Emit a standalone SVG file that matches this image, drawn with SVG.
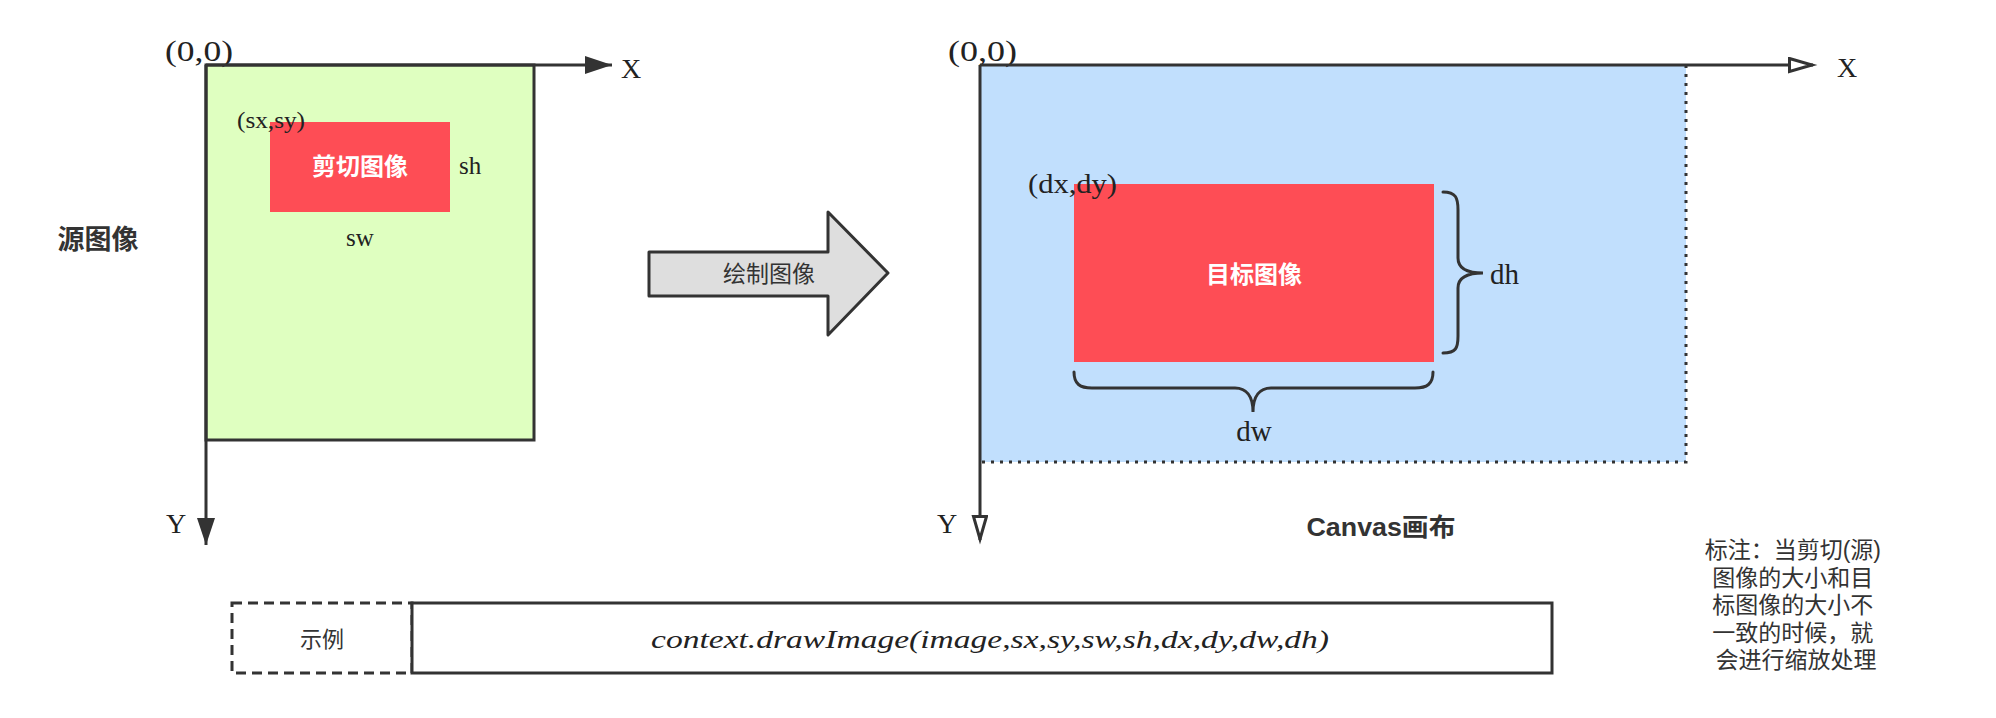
<svg xmlns="http://www.w3.org/2000/svg" width="1996" height="718" viewBox="0 0 1996 718">
<style>
.serif{font-family:"Liberation Serif","Times New Roman",serif;fill:#222;}
.cjk{font-family:"Liberation Sans","Noto Sans CJK SC",sans-serif;fill:#333;}
.bold{font-weight:bold;}
.white{fill:#ffffff;}
.axis{stroke:#333;stroke-width:3;fill:none;}
.brace{stroke:#333;stroke-width:3;fill:none;stroke-linecap:round;}
</style>
<defs>
<marker id="solidHead" markerUnits="userSpaceOnUse" markerWidth="30" markerHeight="20" refX="27" refY="9" orient="auto">
<path d="M0,0 L27,9 L0,18 Z" fill="#333"/>
</marker>
<marker id="openHead" markerUnits="userSpaceOnUse" markerWidth="30" markerHeight="20" refX="25" refY="8" orient="auto">
<path d="M1.5,1.5 L24,8 L1.5,14.5 Z" fill="#fff" stroke="#333" stroke-width="3"/>
</marker>
</defs>
<rect x="0" y="0" width="1996" height="718" fill="#ffffff"/>

<g id="source-image">
<rect x="206" y="65" width="328" height="375" fill="#dfffc0" stroke="#333" stroke-width="3"/>
<text class="cjk bold" x="98" y="240" font-size="27" text-anchor="middle" dominant-baseline="central">源图像</text>
</g>

<g id="crop-image">
<rect x="270" y="122" width="180" height="90" fill="#fe4d55"/>
<text class="cjk bold white" x="360" y="166" font-size="24" text-anchor="middle" dominant-baseline="central">剪切图像</text>
<text class="serif" x="237" y="128" font-size="24" textLength="68" lengthAdjust="spacingAndGlyphs">(sx,sy)</text>
<text class="serif" x="459" y="174" font-size="25">sh</text>
<text class="serif" x="360" y="246" font-size="25" text-anchor="middle">sw</text>
</g>

<g id="left-axes-labels">
<text class="serif" x="165" y="61" font-size="30" textLength="68" lengthAdjust="spacingAndGlyphs">(0,0)</text>
<text class="serif" x="621" y="78" font-size="28">X</text>
<text class="serif" x="166" y="533" font-size="28">Y</text>
</g>

<g id="draw-arrow">
<polygon points="649,252 828,252 828,212 888,273 828,335 828,296 649,296" fill="#dedede" stroke="#333" stroke-width="3" stroke-linejoin="round"/>
<text class="cjk" x="769" y="274" font-size="23" text-anchor="middle" dominant-baseline="central">绘制图像</text>
</g>

<g id="canvas">
<rect x="980" y="65" width="706" height="397" fill="#c1dffd"/>
<path d="M1686,65 L1686,462 L980,462" fill="none" stroke="#333" stroke-width="3" stroke-dasharray="3 6"/>
<text class="cjk bold" x="1381" y="527" font-size="25" text-anchor="middle" dominant-baseline="central" textLength="149" lengthAdjust="spacingAndGlyphs">Canvas画布</text>
</g>

<g id="target-image">
<rect x="1074" y="184" width="360" height="178" fill="#fe4d55"/>
<text class="cjk bold white" x="1254" y="274" font-size="24" text-anchor="middle" dominant-baseline="central">目标图像</text>
<text class="serif" x="1028" y="193" font-size="28" textLength="89" lengthAdjust="spacingAndGlyphs">(dx,dy)</text>
<path class="brace" d="M1443,192 C1456,192 1458,198 1458,210 L1458,258 C1458,268 1466,273 1483,273 C1466,273 1458,278 1458,288 L1458,336 C1458,348 1456,353 1443,353"/>
<text class="serif" x="1490" y="284" font-size="29">dh</text>
<path class="brace" d="M1074,372 C1074,384 1080,388 1092,388 L1235,388 C1246,388 1253,396 1253,412 C1253,396 1260,388 1271,388 L1415,388 C1427,388 1433,384 1433,372"/>
<text class="serif" x="1254" y="441" font-size="29" text-anchor="middle">dw</text>
</g>

<g id="right-axes-labels">
<text class="serif" x="948" y="61" font-size="30" textLength="69" lengthAdjust="spacingAndGlyphs">(0,0)</text>
<text class="serif" x="1837" y="77" font-size="28">X</text>
<text class="serif" x="937" y="533" font-size="28">Y</text>
</g>

<g id="connectors">
<line class="axis" x1="206" y1="65" x2="612" y2="65" marker-end="url(#solidHead)"/>
<line class="axis" x1="206" y1="65" x2="206" y2="545" marker-end="url(#solidHead)"/>
<line class="axis" x1="980" y1="65" x2="1813" y2="65" marker-end="url(#openHead)"/>
<line class="axis" x1="980" y1="65" x2="980" y2="540" marker-end="url(#openHead)"/>
</g>

<g id="example-label">
<rect x="232" y="603" width="180" height="70" fill="#fff" stroke="#333" stroke-width="3" stroke-dasharray="10 6"/>
<text class="cjk" x="322" y="639" font-size="22" text-anchor="middle" dominant-baseline="central">示例</text>
</g>

<g id="example-code">
<rect x="412" y="603" width="1140" height="70" fill="#fff" stroke="#333" stroke-width="3"/>
<text class="serif" x="990" y="648" font-size="26" font-style="italic" text-anchor="middle" textLength="678" lengthAdjust="spacingAndGlyphs">context.drawImage(image,sx,sy,sw,sh,dx,dy,dw,dh)</text>
</g>

<g id="note">
<text class="cjk" font-size="23" text-anchor="middle" dominant-baseline="central">
<tspan x="1796" y="550">标注：当剪切(源)</tspan>
<tspan x="1796" y="578">图像的大小和目</tspan>
<tspan x="1796" y="605">标图像的大小不</tspan>
<tspan x="1796" y="633">一致的时候，就</tspan>
<tspan x="1796" y="660">会进行缩放处理</tspan>
</text>
</g>
</svg>
